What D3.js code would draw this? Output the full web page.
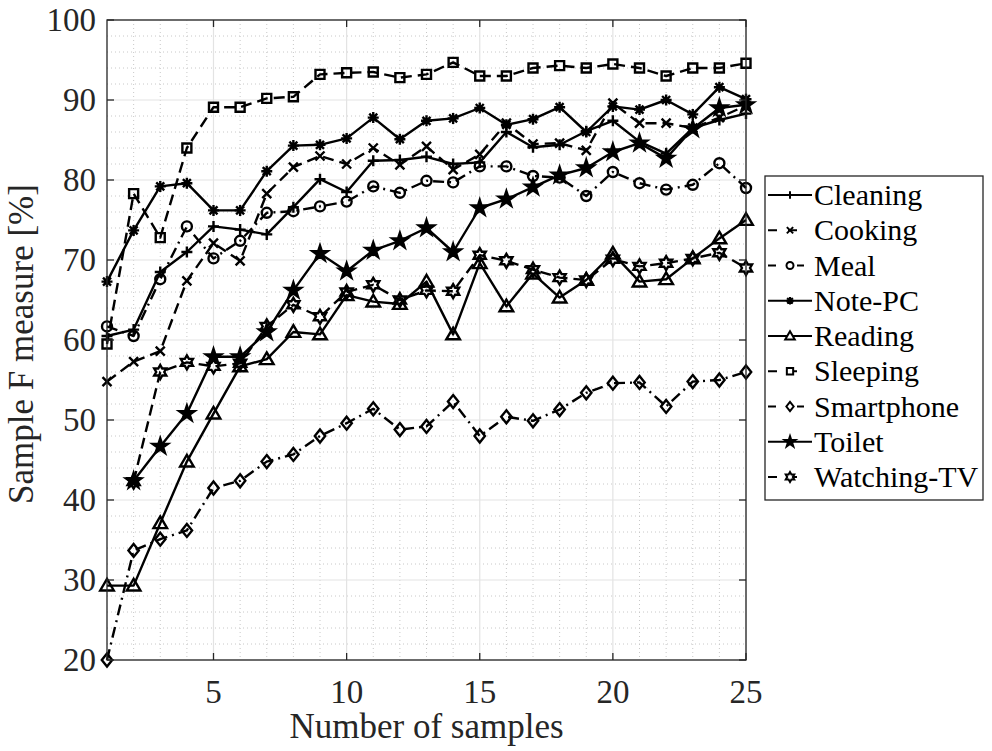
<!DOCTYPE html>
<html>
<head>
<meta charset="utf-8">
<script src="https://cdn.jsdelivr.net/npm/d3@7"></script>
<style>
  html, body { margin: 0; padding: 0; background: #fff; }
  svg { display: block; }
</style>
</head>
<body>
<svg id="chart" width="992" height="751" font-family="Liberation Serif"></svg>
<script>
// ---- data ----
const samples = d3.range(1, 26);
const xTicks = [5, 10, 15, 20, 25];
const yTicks = [20, 30, 40, 50, 60, 70, 80, 90, 100];
const seriesNames = ["Cleaning", "Cooking", "Meal", "Note-PC", "Reading", "Sleeping", "Smartphone", "Toilet", "Watching-TV"];

const cleaning   = [60.5, 61.3, 68.5, 71.0, 74.2, 73.8, 73.2, 76.6, 80.1, 78.5, 82.4, 82.5, 82.9, 82.0, 82.2, 86.0, 84.1, 84.4, 86.1, 87.4, 84.8, 83.3, 86.5, 87.5, 88.3];
const cooking    = [54.8, 57.3, 58.6, 67.4, 72.1, 69.9, 78.3, 81.6, 83.0, 82.0, 84.0, 81.9, 84.2, 81.3, 83.2, 87.1, 84.5, 84.6, 83.7, 89.6, 87.1, 87.1, 86.5, 87.8, 89.3];
const meal       = [61.7, 60.5, 67.6, 74.2, 70.2, 72.4, 75.9, 76.1, 76.7, 77.3, 79.2, 78.4, 79.9, 79.7, 81.7, 81.7, 80.5, 80.3, 78.0, 81.0, 79.6, 78.8, 79.4, 82.1, 79.0];
const notePC     = [67.3, 73.7, 79.2, 79.6, 76.2, 76.2, 81.1, 84.3, 84.4, 85.2, 87.8, 85.1, 87.4, 87.7, 89.0, 86.9, 87.6, 89.1, 86.0, 89.2, 88.8, 90.0, 88.2, 91.6, 90.1];
const reading    = [29.3, 29.3, 37.1, 44.8, 50.8, 56.7, 57.6, 61.0, 60.7, 65.6, 64.8, 64.5, 67.3, 60.7, 69.6, 64.2, 68.3, 65.3, 67.5, 70.8, 67.3, 67.6, 70.2, 72.7, 75.0];
const sleeping   = [59.5, 78.3, 72.8, 84.0, 89.1, 89.1, 90.2, 90.4, 93.2, 93.4, 93.5, 92.8, 93.2, 94.7, 93.0, 93.0, 94.0, 94.3, 94.0, 94.5, 94.0, 93.0, 94.0, 94.0, 94.6];
const smartphone = [20.0, 33.7, 35.1, 36.2, 41.5, 42.4, 44.8, 45.7, 48.0, 49.6, 51.4, 48.8, 49.2, 52.3, 48.0, 50.4, 49.9, 51.3, 53.4, 54.6, 54.7, 51.7, 54.8, 55.0, 56.0];
const toilet     = [null, 42.4, 46.7, 50.8, 57.9, 57.9, 61.0, 66.2, 70.8, 68.6, 71.2, 72.4, 74.0, 71.0, 76.5, 77.6, 79.1, 80.6, 81.5, 83.5, 84.6, 82.7, 86.4, 89.0, 89.4];
const watchingTV = [null, 42.3, 56.0, 57.2, 56.7, 57.1, 61.7, 64.4, 62.9, 66.0, 66.9, 65.0, 66.2, 66.1, 70.6, 69.9, 68.8, 67.8, 67.5, 70.1, 69.2, 69.6, 70.2, 70.9, 69.0];

const seriesValues = [cleaning, cooking, meal, notePC, reading, sleeping, smartphone, toilet, watchingTV];

// ---- styles ----
const dashes = { solid: null, dashed: "11,6", dashdot: "11,5,2,5" };
const lineStyles = ["solid", "dashed", "dashdot", "solid", "solid", "dashed", "dashdot", "solid", "dashed"];
const markerTypes = ["plus", "x", "circle", "asterisk", "triangle", "square", "diamond", "pentagram", "hexagram"];

function markerPath(type, s) {
  const p = d3.path();
  if (type === "plus") {
    const r = 5.5 * s; p.moveTo(-r, 0); p.lineTo(r, 0); p.moveTo(0, -r); p.lineTo(0, r);
  } else if (type === "x") {
    const r = 4.5 * s; p.moveTo(-r, -r); p.lineTo(r, r); p.moveTo(-r, r); p.lineTo(r, -r);
  } else if (type === "circle") {
    const r = 5 * s; p.moveTo(r, 0); p.arc(0, 0, r, 0, 2 * Math.PI);
  } else if (type === "asterisk") {
    const r = 5.5 * s, q = 4 * s;
    p.moveTo(-r, 0); p.lineTo(r, 0); p.moveTo(0, -r); p.lineTo(0, r);
    p.moveTo(-q, -q); p.lineTo(q, q); p.moveTo(-q, q); p.lineTo(q, -q);
  } else if (type === "triangle") {
    const r = 6.8 * s; p.moveTo(0, -r); p.lineTo(r, r * 0.72); p.lineTo(-r, r * 0.72); p.closePath();
  } else if (type === "square") {
    const r = 4.5 * s; p.rect(-r, -r, 2 * r, 2 * r);
  } else if (type === "diamond") {
    const r = 6.5 * s; p.moveTo(0, -r); p.lineTo(r * 0.8, 0); p.lineTo(0, r); p.lineTo(-r * 0.8, 0); p.closePath();
  } else if (type === "pentagram") {
    const R = 8 * s, ri = R * 0.382;
    for (let i = 0; i < 10; i++) {
      const a = -Math.PI / 2 + i * Math.PI / 5, rr = i % 2 ? ri : R;
      if (i === 0) p.moveTo(rr * Math.cos(a), rr * Math.sin(a)); else p.lineTo(rr * Math.cos(a), rr * Math.sin(a));
    }
    p.closePath();
  } else if (type === "hexagram") {
    const R = 7 * s, ri = R / Math.sqrt(3);
    for (let i = 0; i < 12; i++) {
      const a = -Math.PI / 2 + i * Math.PI / 6, rr = i % 2 ? ri : R;
      if (i === 0) p.moveTo(rr * Math.cos(a), rr * Math.sin(a)); else p.lineTo(rr * Math.cos(a), rr * Math.sin(a));
    }
    p.closePath();
  }
  return p.toString();
}

// ---- layout ----
const svg = d3.select("#chart");
const L = 107, T = 20, R = 746, B = 660;
const x = d3.scaleLinear().domain([1, 25]).range([L, R]);
const y = d3.scaleLinear().domain([20, 100]).range([B, T]);

const axisColor = "#262626";

// minor grid
const g = svg.append("g");
g.selectAll(".vminor").data(d3.range(2, 25).filter(v => v % 5 !== 0)).join("line")
  .attr("x1", d => x(d)).attr("x2", d => x(d)).attr("y1", T).attr("y2", B)
  .attr("stroke", "#c8c8c8").attr("stroke-width", 1).attr("stroke-dasharray", "1,3");
g.selectAll(".hminor").data(d3.range(22, 100, 2).filter(v => v % 10 !== 0)).join("line")
  .attr("x1", L).attr("x2", R).attr("y1", d => y(d)).attr("y2", d => y(d))
  .attr("stroke", "#c8c8c8").attr("stroke-width", 1).attr("stroke-dasharray", "1,3");
// major grid
g.selectAll(".vmajor").data(xTicks).join("line")
  .attr("x1", d => x(d)).attr("x2", d => x(d)).attr("y1", T).attr("y2", B)
  .attr("stroke", "#e3e3e3").attr("stroke-width", 1.2);
g.selectAll(".hmajor").data(yTicks).join("line")
  .attr("x1", L).attr("x2", R).attr("y1", d => y(d)).attr("y2", d => y(d))
  .attr("stroke", "#e3e3e3").attr("stroke-width", 1.2);

// series
const line = d3.line().defined(d => d[1] != null).x(d => x(d[0])).y(d => y(d[1]));
seriesValues.forEach((vals, i) => {
  const pts = samples.map((s, j) => [s, vals[j]]);
  svg.append("path").datum(pts).attr("d", line)
    .attr("fill", "none").attr("stroke", "#000").attr("stroke-width", 2.4)
    .attr("stroke-dasharray", dashes[lineStyles[i]]).attr("stroke-linejoin", "round");
  const m = markerTypes[i];
  svg.append("g").selectAll("path").data(pts.filter(d => d[1] != null)).join("path")
    .attr("transform", d => `translate(${x(d[0])},${y(d[1])})`)
    .attr("d", markerPath(m, 1))
    .attr("fill", m === "pentagram" ? "#000" : "none")
    .attr("stroke", "#000").attr("stroke-width", 2.4).attr("stroke-linejoin", "miter");
});

// axes box
svg.append("rect").attr("x", L).attr("y", T).attr("width", R - L).attr("height", B - T)
  .attr("fill", "none").attr("stroke", axisColor).attr("stroke-width", 1.3);

const tickLen = 7;
const ax = svg.append("g").attr("stroke", axisColor).attr("stroke-width", 1.3);
xTicks.forEach(v => {
  ax.append("line").attr("x1", x(v)).attr("x2", x(v)).attr("y1", B).attr("y2", B - tickLen);
  ax.append("line").attr("x1", x(v)).attr("x2", x(v)).attr("y1", T).attr("y2", T + tickLen);
});
yTicks.forEach(v => {
  ax.append("line").attr("x1", L).attr("x2", L + tickLen).attr("y1", y(v)).attr("y2", y(v));
  ax.append("line").attr("x1", R).attr("x2", R - tickLen).attr("y1", y(v)).attr("y2", y(v));
});

// tick labels
svg.append("g").selectAll("text").data(xTicks).join("text")
  .attr("x", d => x(d)).attr("y", 703).attr("text-anchor", "middle")
  .attr("font-size", 33).attr("fill", axisColor).text(d => d);
svg.append("g").selectAll("text").data(yTicks).join("text")
  .attr("x", 96).attr("y", d => y(d) + 11).attr("text-anchor", "end")
  .attr("font-size", 33).attr("fill", axisColor).text(d => d);

// axis labels
svg.append("text").attr("x", (L + R) / 2).attr("y", 738).attr("text-anchor", "middle")
  .attr("font-size", 35).attr("fill", axisColor).text("Number of samples");
svg.append("text").attr("transform", `translate(33,${(T + B) / 2 + 4}) rotate(-90)`)
  .attr("text-anchor", "middle").attr("font-size", 35).attr("fill", axisColor)
  .text("Sample F measure [%]");

// legend
const lg = svg.append("g");
lg.append("rect").attr("x", 765).attr("y", 176).attr("width", 218).attr("height", 324)
  .attr("fill", "#fff").attr("stroke", axisColor).attr("stroke-width", 1.3);
seriesNames.forEach((name, i) => {
  const cy = 195 + i * 35.25;
  lg.append("line").attr("x1", 768).attr("x2", 812).attr("y1", cy).attr("y2", cy)
    .attr("stroke", "#000").attr("stroke-width", 2.2)
    .attr("stroke-dasharray", lineStyles[i] === "solid" ? null : (lineStyles[i] === "dashed" ? "9,11,9,60" : "8,10,7,4,7,60"));
  const m = markerTypes[i];
  lg.append("path").attr("transform", `translate(790,${cy})`).attr("d", markerPath(m, 0.7))
    .attr("fill", m === "pentagram" ? "#000" : "#fff").attr("stroke", "#000").attr("stroke-width", 2);
  lg.append("text").attr("x", 814).attr("y", cy + 10).attr("font-size", 30).attr("fill", "#000").text(name);
});
</script>
</body>
</html>
